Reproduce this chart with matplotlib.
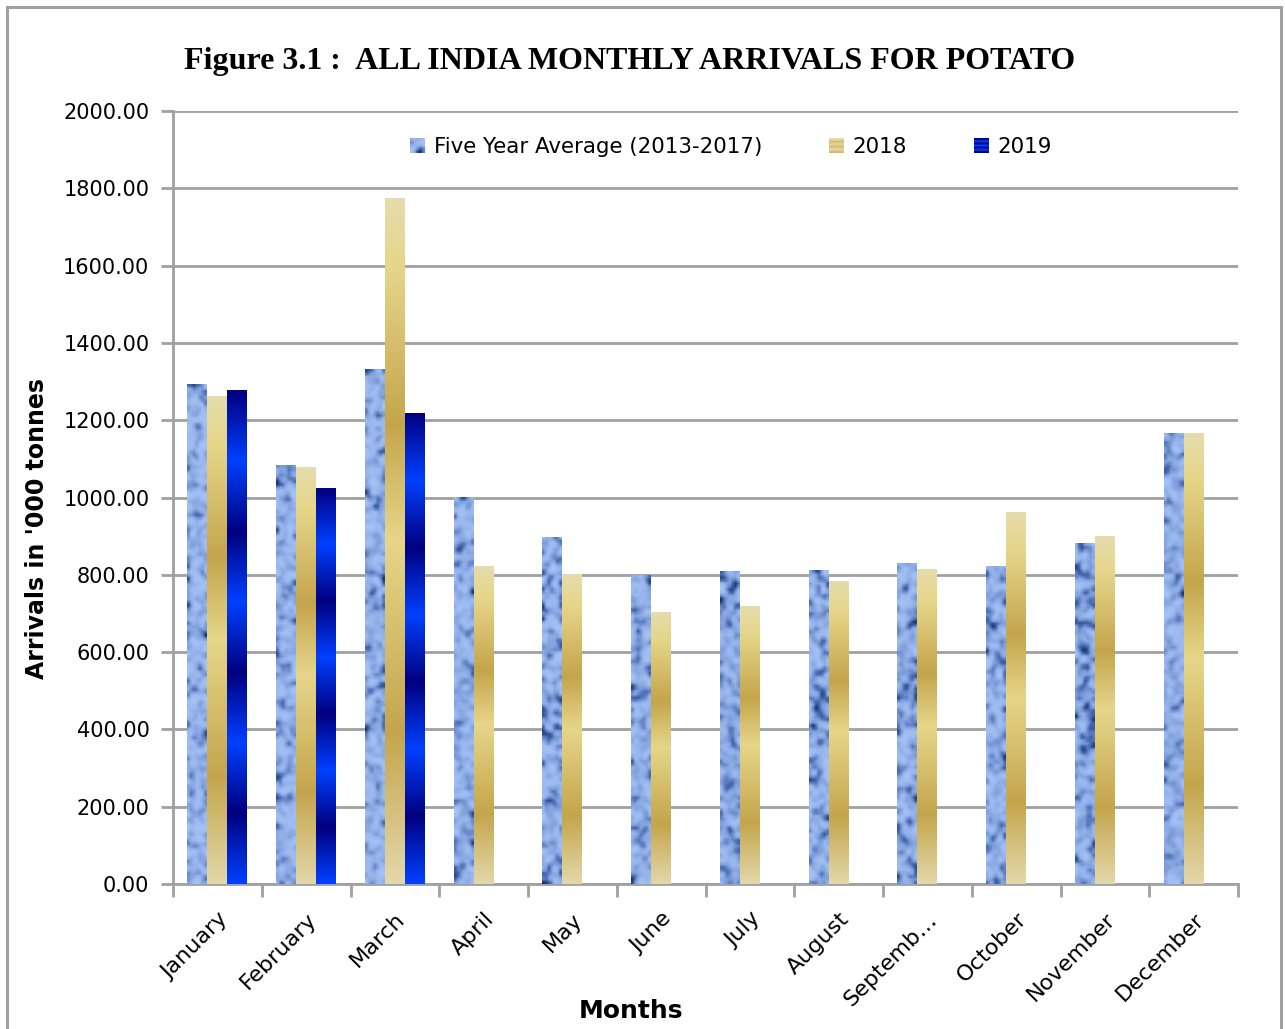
import numpy as np
import matplotlib
matplotlib.use("Agg")
import matplotlib.pyplot as plt
from matplotlib.colors import LinearSegmentedColormap
from matplotlib.patches import Rectangle
from matplotlib.legend_handler import HandlerBase
from matplotlib.image import BboxImage
from matplotlib.transforms import Bbox, TransformedBbox

# ---------------- data ----------------
months = ["January", "February", "March", "April", "May", "June", "July",
          "August", "Septemb…", "October", "November", "December"]
avg_5yr = [1293, 1084, 1332, 1001, 898, 799, 810, 812, 830, 823, 882, 1167]
y2018 = [1262, 1079, 1775, 823, 802, 704, 719, 784, 815, 962, 900, 1167]
y2019 = [1278, 1025, 1219, np.nan, np.nan, np.nan, np.nan, np.nan, np.nan, np.nan, np.nan, np.nan]
series_names = ["Five Year Average (2013-2017)", "2018", "2019"]
yticks = [0, 200, 400, 600, 800, 1000, 1200, 1400, 1600, 1800, 2000]

# ---------------- styles ----------------
cmap_avg = LinearSegmentedColormap.from_list(
    "avg", ["#15306a", "#3a5ea6", "#7f9fdc", "#9dbaf0", "#a8c4f4"])
cmap_2018 = LinearSegmentedColormap.from_list(
    "g2018", [(0.0, "#e5dcad"), (0.10, "#e6d68a"), (0.33, "#c4a54c"),
              (0.50, "#e6d68a"), (0.78, "#c4a54c"), (1.0, "#e3d8aa")])
cmap_2019 = LinearSegmentedColormap.from_list(
    "g2019", [(i / 7, "#000080" if i % 2 == 0 else "#0040ff") for i in range(8)])


def texture(rows, cols, seed=0.0):
    i = np.arange(rows)[:, None]
    j = np.arange(cols)[None, :]
    v = np.sin(i * 12.9898 + j * 78.233 + seed) * 43758.5453
    v = v - np.floor(v)
    k = np.array([0.25, 0.5, 0.25])
    v = np.apply_along_axis(lambda r: np.convolve(np.pad(r, 1, mode="edge"), k, "valid"), 0, v)
    v = np.apply_along_axis(lambda r: np.convolve(np.pad(r, 1, mode="edge"), k, "valid"), 1, v)
    v = (v - v.min()) / (v.max() - v.min() + 1e-9)
    return v ** 0.7


grad = np.linspace(0, 1, 256)[:, None]

fig = plt.figure(figsize=(12.85, 10.29), dpi=100)
ax = fig.add_axes([173 / 1285, 1 - 884 / 1029, (1238 - 173) / 1285, (884 - 111) / 1029])

x = np.arange(len(months))
w = 0.225
bars_avg = ax.bar(x - w, avg_5yr, w, facecolor="none", edgecolor="none", zorder=3)
bars_18 = ax.bar(x, y2018, w, facecolor="none", edgecolor="none", zorder=3)
bars_19 = ax.bar(x + w, y2019, w, facecolor="none", edgecolor="none", zorder=3)

for k, b in enumerate(bars_avg):
    x0, y0 = b.get_x(), b.get_y()
    bw, bh = b.get_width(), b.get_height()
    rows = max(int(bh * 0.3865 / 3.0), 2)
    im = ax.imshow(texture(rows, 7, seed=k * 3.7), cmap=cmap_avg, aspect="auto",
                   extent=[x0, x0 + bw, y0, y0 + bh], origin="upper",
                   interpolation="bilinear", zorder=3)
    im.set_clip_path(b)

for bars, cm in ((bars_18, cmap_2018), (bars_19, cmap_2019)):
    for b in bars:
        bh = b.get_height()
        if not np.isfinite(bh) or bh <= 0:
            continue
        x0, y0, bw = b.get_x(), b.get_y(), b.get_width()
        im = ax.imshow(grad, cmap=cm, aspect="auto",
                       extent=[x0, x0 + bw, y0, y0 + bh], origin="upper",
                       interpolation="bilinear", zorder=3)
        im.set_clip_path(b)

ax.set_xlim(-0.5, len(months) - 0.5)
ax.set_ylim(0, 2000)

gray = "#a0a0a0"
ax.set_yticks(yticks)
ax.set_yticklabels([f"{v:.2f}" for v in yticks], fontsize=15, family="DejaVu Sans")
ax.yaxis.grid(True, color=gray, linewidth=2, zorder=0)
ax.set_axisbelow(True)

ax.set_xticks(x)
ax.set_xticklabels(months, rotation=45, ha="right", va="top", rotation_mode="anchor",
                   fontsize=16, family="DejaVu Sans")
ax.tick_params(axis="x", which="major", length=0, pad=18)
ax.set_xticks(np.arange(-0.5, len(months), 1.0), minor=True)
ax.tick_params(axis="x", which="minor", length=9, width=2, color=gray, direction="out")
ax.tick_params(axis="y", length=9, width=2, color=gray, direction="out", pad=8)

for s in ("top", "right"):
    ax.spines[s].set_visible(False)
for s in ("left", "bottom"):
    ax.spines[s].set_color(gray)
    ax.spines[s].set_linewidth(2)

ax.set_ylabel("Arrivals in '000 tonnes", fontsize=17, fontweight="bold")
ax.yaxis.set_label_coords(-0.116, 0.46)
ax.set_xlabel("Months", fontsize=18, fontweight="bold")
ax.xaxis.set_label_coords(0.43, -0.149)


class GradHandler(HandlerBase):
    def __init__(self, data, cmap):
        super().__init__()
        self.data, self.cmap = data, cmap

    def create_artists(self, legend, orig_handle, xdescent, ydescent, width, height,
                       fontsize, trans):
        bb = TransformedBbox(Bbox.from_bounds(-xdescent, -ydescent, width, height), trans)
        img = BboxImage(bb, cmap=self.cmap, interpolation="bilinear")
        img.set_data(self.data)
        return [img]


leg = ax.legend([bars_avg, bars_18, bars_19], series_names, ncol=3, frameon=False,
                loc="center", bbox_to_anchor=(0.524, 0.953), fontsize=15.4,
                handlelength=0.7, handleheight=0.7, handletextpad=0.4, columnspacing=3.13,
                handler_map={bars_avg: GradHandler(texture(5, 5, 1.0), cmap_avg),
                             bars_18: GradHandler(np.array([0.0, 0.33, 0.5, 0.33, 0.0, 0.33])[:, None], cmap_2018),
                             bars_19: GradHandler(np.array([0.0, 1 / 7, 0.0, 1 / 7, 0.0, 1 / 7, 0.0])[:, None], cmap_2019)})

fig.text(630 / 1285, 1 - 62 / 1029, "Figure 3.1 :  ALL INDIA MONTHLY ARRIVALS FOR POTATO",
         ha="center", va="center", fontsize=23, fontweight="bold", family="Liberation Serif")

fig.patches.append(Rectangle((7 / 1285, -0.05), (1281 - 7) / 1285, 1.05 - 7 / 1029,
                             transform=fig.transFigure, fill=False, edgecolor="#a0a0a0",
                             linewidth=2.2, clip_on=False))

fig.savefig("out.png", dpi=100)
